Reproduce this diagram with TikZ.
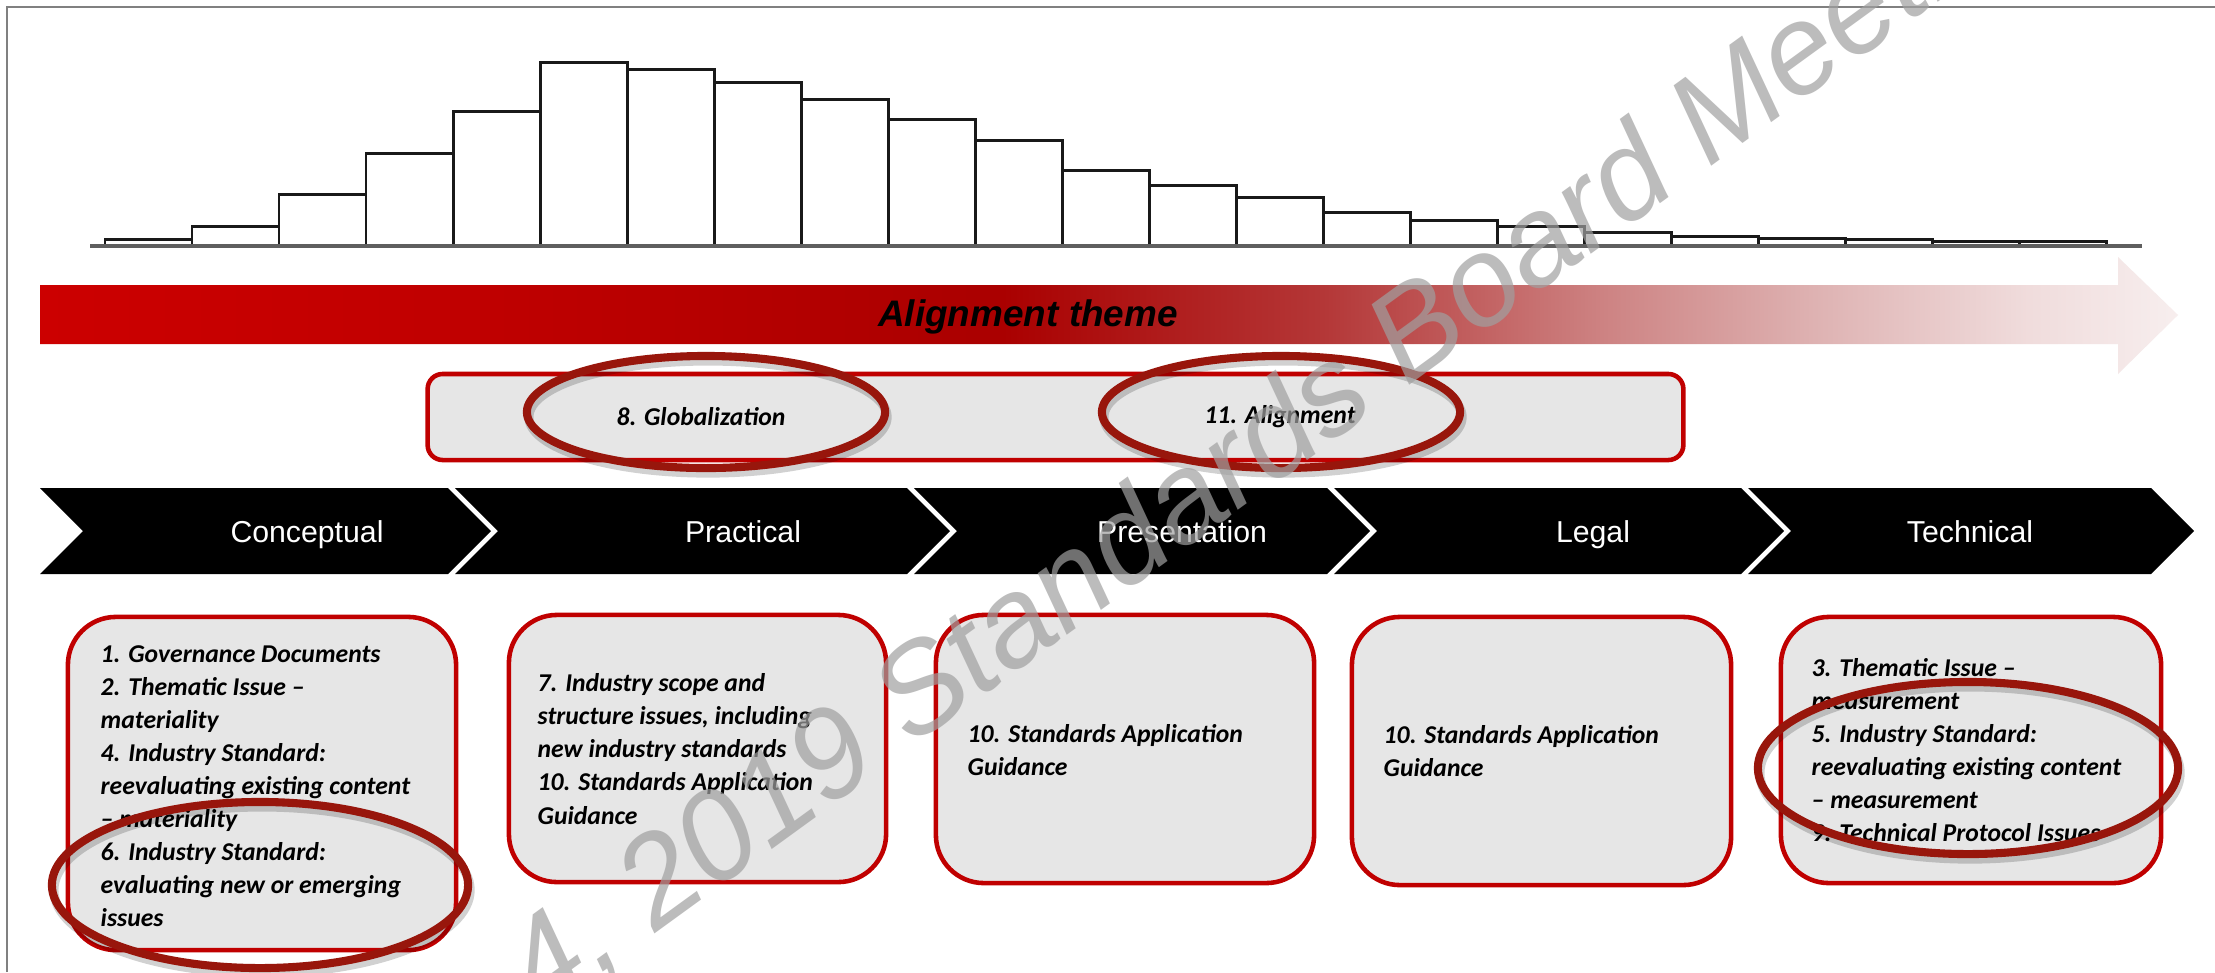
\documentclass[tikz,border=0pt]{standalone}
\usepackage{fontspec}
\setmainfont{Liberation Sans}
\newfontfamily\calfont{Carlito}
\usepackage{tikz}
\usetikzlibrary{positioning}
\definecolor{cRed}{RGB}{192,0,0}
\definecolor{cRing}{RGB}{152,22,12}
\definecolor{cPanel}{RGB}{230,230,230}
\definecolor{cFrame}{RGB}{128,128,128}
\definecolor{cBase}{RGB}{95,95,95}
\definecolor{cMark}{RGB}{160,160,160}
% colour stops of the theme arrow
\definecolor{sA}{RGB}{204,0,0}
\definecolor{sB}{RGB}{192,0,0}
\definecolor{sC}{RGB}{170,0,0}
\definecolor{sD}{RGB}{180,55,55}
\definecolor{sE}{RGB}{205,130,130}
\definecolor{sF}{RGB}{222,178,178}
\definecolor{sG}{RGB}{240,220,220}
\definecolor{sH}{RGB}{247,238,238}
\pgfdeclarehorizontalshading{themeshade}{100bp}{color(0bp)=(sA); color(25bp)=(sA); color(35bp)=(sB); color(47.5bp)=(sC); color(55bp)=(sD); color(61.5bp)=(sE); color(66.5bp)=(sF); color(71.5bp)=(sG); color(75bp)=(sH); color(100bp)=(sH)}
\newcommand{\issuefont}{\calfont\bfseries\itshape\fontsize{7.3pt}{9.4pt}\selectfont}
\tikzset{
	histbar/.style  ={draw=black!90, line width=0.85pt, fill=white},
	stagebox/.style ={rectangle, rounded corners=0.48cm, draw=cRed, line width=1.3pt, fill=cPanel, inner sep=0pt},
	themebox/.style ={rectangle, rounded corners=0.15cm, draw=cRed, line width=1.3pt, fill=cPanel, inner sep=0pt},
	issuetext/.style={anchor=west, align=left, inner sep=0pt, font=\issuefont},
	stagelbl/.style ={anchor=base, text=white, inner sep=0pt, font=\fontsize{8.6pt}{10pt}\selectfont},
	ring/.style     ={draw=cRing, line width=2.3pt},
	ringshadow/.style={draw=black, opacity=0.18, line width=2.6pt, xshift=0.02cm, yshift=-0.05cm},
	wmark/.style    ={text=cMark, text opacity=0.7, inner sep=0pt, font=\itshape\fontsize{36pt}{36pt}\selectfont},
}
\begin{document}
\begin{tikzpicture}[x=0.01cm, y=-0.01cm]
	\useasboundingbox (0,0) rectangle (2215,972);
	\fill[white] (0,0) rectangle (2215,972);
	\draw[cFrame, line width=0.6pt] (7,972) -- (7,7) -- (2215,7);
	% distribution
	\foreach \top [count=\i from 0] in {239,226,194,153,111,62,69,82,99,119,140,170,185,197,212,220,226,232,236,238,239,241,241}
		\draw[histbar] ({105+87*\i},246) rectangle ({192+87*\i},\top);
	\draw[cBase, line width=1pt] (90,246) -- (2142,246);
	% theme arrow
	\shade[shading=themeshade] (40,285) -- (2118,285) -- (2118,257) -- (2178,315) -- (2118,374) -- (2118,344) -- (40,344) -- cycle;
	\node[anchor=base, inner sep=0pt, font=\bfseries\itshape\fontsize{10.5pt}{12pt}\selectfont] (theme) at (1028,326) {Alignment theme};
	\node[themebox, minimum width=12.55cm, minimum height=0.86cm] (axis) at (1055.5,417) {};
	\node[font=\issuefont, inner sep=0pt] (glob) at (701,417) {8. Globalization};
	\node[font=\issuefont, inner sep=0pt] (algn) at (1280,417) {11. Alignment};
	% stages
	\foreach \l/\r in {40/448, 455/907, 914/1327, 1334/1741, 1748/2151}
		\fill[black] (\l,488) -- (\r,488) -- ({\r+43},531) -- (\r,574) -- (\l,574) -- ({\l+43},531) -- cycle;
	\node[stagelbl] (conc) at (307,542) {Conceptual};
	\node[stagelbl] (prac) at (743,542) {Practical};
	\node[stagelbl] (pres) at (1182,542) {Presentation};
	\node[stagelbl] (legl) at (1593,542) {Legal};
	\node[stagelbl] (tech) at (1970,542) {Technical};
	% issue boxes
	\node[stagebox, minimum width=3.88cm, minimum height=3.33cm] (bconc) at (262,783.5) {};
	\node[stagebox, minimum width=3.77cm, minimum height=2.67cm] (bprac) at (697.5,748.5) {};
	\node[stagebox, minimum width=3.78cm, minimum height=2.68cm] (bpres) at (1125,749) {};
	\node[stagebox, minimum width=3.79cm, minimum height=2.68cm] (blegl) at (1541.5,751) {};
	\node[stagebox, minimum width=3.80cm, minimum height=2.66cm] (btech) at (1971,750) {};
	\node[issuetext] (iconc) at (100,786) {1. Governance Documents\\ 2. Thematic Issue –\\ materiality\\ 4. Industry Standard:\\ reevaluating existing content\\ – materiality\\ 6. Industry Standard:\\ evaluating new or emerging\\ issues};
	\node[issuetext] (iprac) at (537,749) {7. Industry scope and\\ structure issues, including\\ new industry standards\\ 10. Standards Application\\ Guidance};
	\node[issuetext] (ipres) at (967,750) {10. Standards Application\\ Guidance};
	\node[issuetext] (ilegl) at (1383,751) {10. Standards Application\\ Guidance};
	\node[issuetext] (itech) at (1811,750) {3. Thematic Issue –\\ measurement\\ 5. Industry Standard:\\ reevaluating existing content\\ – measurement\\ 9. Technical Protocol Issues};
	% highlight rings
	\draw[ringshadow] (706,412) ellipse [x radius=1.79cm, y radius=0.56cm];
	\draw[ringshadow] (1281,412) ellipse [x radius=1.79cm, y radius=0.56cm];
	\draw[ringshadow] (260,885) ellipse [x radius=2.08cm, y radius=0.83cm];
	\draw[ringshadow] (1968,768) ellipse [x radius=2.10cm, y radius=0.86cm];
	\draw[ring] (706,412) ellipse [x radius=1.79cm, y radius=0.56cm];
	\draw[ring] (1281,412) ellipse [x radius=1.79cm, y radius=0.56cm];
	\draw[ring] (260,885) ellipse [x radius=2.08cm, y radius=0.83cm];
	\draw[ring] (1968,768) ellipse [x radius=2.10cm, y radius=0.86cm];
	% watermark
	\begin{scope}
		\clip (0,0) rectangle (2215,972);
		\node[wmark, rotate=36, anchor=base west] (wm) at (541,1017) {4, 2019 Standards Board Meeting};
	\end{scope}
\end{tikzpicture}
\end{document}
